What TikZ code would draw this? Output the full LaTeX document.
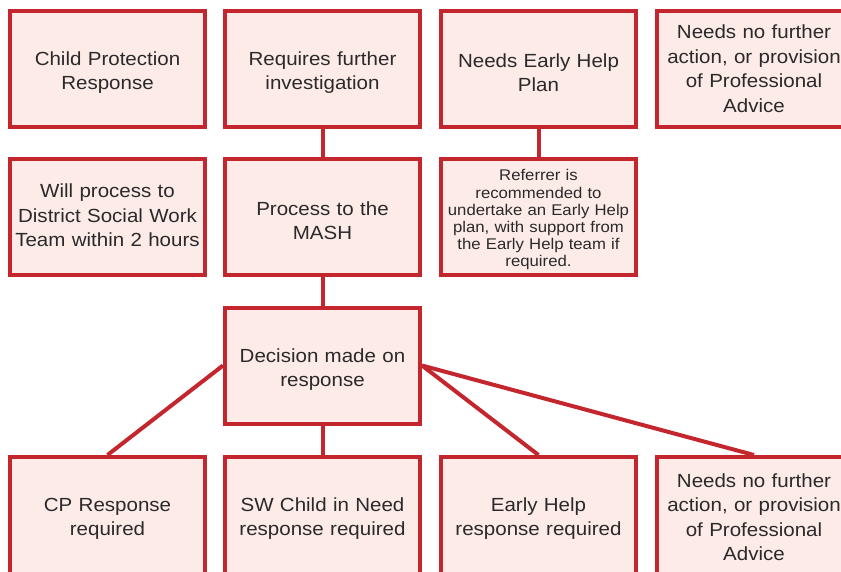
\documentclass[tikz,border=0pt]{standalone}
\usepackage{fontspec}
\setmainfont{Liberation Sans}[FakeStretch=1.08]
\usetikzlibrary{backgrounds}
\definecolor{boxred}{HTML}{C4262E}
\definecolor{boxfill}{HTML}{FCEBE7}
\definecolor{boxtext}{HTML}{2A2A2A}

\begin{document}
\begin{tikzpicture}[x=1pt, y=-1pt,
  box/.style={draw=boxred, line width=4pt, fill=boxfill, text=boxtext,
    minimum width=195pt, minimum height=116pt, text width=192pt,
    align=center, inner sep=0pt, text height=22pt,
    font=\fontsize{19}{24.5}\selectfont},
  smallbox/.style={box, text height=18pt, font=\fontsize{15.5}{17.2}\selectfont},
  lowbox/.style={box, anchor=north, minimum height=150pt, text depth=64pt},
  link/.style={draw=boxred, line width=4pt}]
\useasboundingbox (0, 0) rectangle (841, 571);
%Top row
\node (cpresp) at (107.5, 68.5) [box] {Child Protection\\Response};
\node (further) at (322.5, 68.5) [box] {Requires further\\investigation};
\node (ehplan) at (538.5, 68.5) [box] {Needs Early Help\\Plan};
\node (nfatop) at (754, 68.5) [box, text height=14.5pt] {Needs no further\\action, or provision\\of Professional\\Advice};
%Second row
\node (district) at (107.5, 216.5) [box, text height=12pt] {Will process to\\District Social Work\\Team within 2 hours};
\node (mash) at (322.5, 216.5) [box] {Process to the\\MASH};
\node (referrer) at (538.5, 216.5) [smallbox] {Referrer is\\recommended to\\undertake an Early Help\\plan, with support from\\the Early Help team if\\required.};
%Decision
\node (decision) at (322.5, 365.5) [box] {Decision made on\\response};
%Bottom row
\node (cpreq) at (107.5, 455) [lowbox] {CP Response\\required};
\node (swcin) at (322.5, 455) [lowbox] {SW Child in Need\\response required};
\node (ehreq) at (538.5, 455) [lowbox] {Early Help\\response required};
\node (nfabot) at (754, 455) [lowbox, text depth=112pt] {Needs no further\\action, or provision\\of Professional\\Advice};
%Links
\begin{scope}[on background layer]
\draw [link] (further.south) -- (mash.north);
\draw [link] (ehplan.south) -- (referrer.north);
\draw [link] (mash.south) -- (decision.north);
\draw [link] (decision.south) -- (swcin.north);
\draw [link] (decision.west) -- (cpreq.north);
\draw [link] (decision.east) -- (ehreq.north);
\draw [link] (decision.east) -- (nfabot.north);
\end{scope}
\end{tikzpicture}
\end{document}
